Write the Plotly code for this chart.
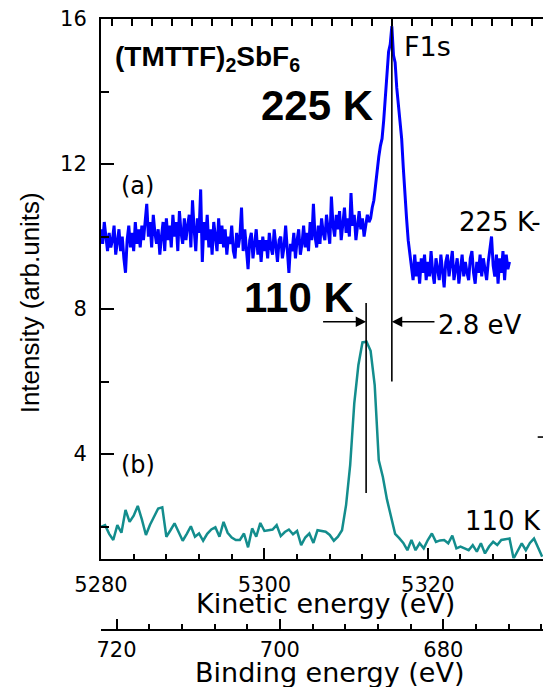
import numpy as np
import plotly.graph_objects as go

# ---------------- data ----------------
ke_start = 5280.0
ke_step_225 = 0.2
intensity_225 = [
    10.2, 9.8, 10.4, 9.9, 9.6,
    10.1, 9.7, 9.9, 10.3, 9.5,
    9.8, 10.2, 9.6, 10.0, 9.4,
    9.0, 9.9, 10.3, 9.7, 10.1,
    9.6, 10.4, 9.8, 10.2, 9.7,
    10.3, 9.9, 10.5, 10.9, 10.0,
    10.4, 9.7, 10.6, 10.1, 9.8,
    10.2, 9.5, 10.0, 10.4, 9.6,
    10.5, 9.9, 10.3, 9.7, 10.6,
    10.0, 10.4, 9.6, 10.7, 10.1,
    9.8, 10.5, 9.9, 10.3, 10.6,
    9.7, 11.0, 10.2, 9.6, 10.5,
    10.1, 11.3, 9.3, 10.4, 9.9,
    10.6, 9.7, 10.2, 9.5, 10.4,
    10.0, 9.6, 10.5, 9.8, 10.3,
    9.7, 10.2, 9.5, 10.0, 9.8,
    10.3, 9.6, 9.4, 10.1, 9.7,
    10.0, 10.8, 9.6, 10.2, 9.5,
    9.1, 9.9, 10.1, 9.4, 9.8,
    10.2, 9.5, 9.9, 9.3, 10.0,
    9.6, 9.9, 9.4, 10.1, 9.7,
    9.5, 10.2, 9.8, 9.3, 9.9,
    10.0, 9.4, 9.7, 10.3, 9.5,
    9.0, 9.8, 9.6, 10.1, 9.4,
    9.9, 10.2, 9.5, 9.8, 10.3,
    9.7, 10.1, 9.6, 10.4, 9.9,
    10.9, 10.0, 9.7, 10.3, 9.8,
    10.5, 10.1, 9.9, 10.6, 10.2,
    9.8, 11.1, 10.3, 10.0, 10.6,
    10.2, 10.7, 9.9, 10.4, 10.8,
    10.1, 10.5, 10.0, 11.2, 10.3,
    10.6, 9.9, 10.4, 10.7, 10.2,
    10.5, 10.0, 10.3, 10.6, 10.4,
    10.5, 10.8, 11.0, 11.4, 11.9,
    12.2, 12.5, 12.7, 13.2, 13.9,
    14.6, 15.1, 15.3, 15.8, 15.0,
    14.8, 14.1, 13.6, 13.3, 12.7,
    11.9, 11.1, 10.5, 9.9, 9.5,
    9.2, 8.8, 9.5, 8.9, 9.3,
    8.7, 9.4, 9.0, 9.5, 8.8,
    9.3, 8.9, 9.6, 9.0, 8.7,
    9.4, 9.1, 8.8, 9.5, 9.0,
    8.6, 9.3, 9.5, 8.9, 9.2,
    9.6, 8.8, 9.1, 9.4, 8.7,
    9.2, 9.5, 8.9, 9.3, 9.0,
    8.8, 9.4, 9.6, 9.0, 8.7,
    9.3, 9.0, 9.5, 8.9, 9.4,
    9.1, 8.8, 9.3, 9.6, 10.0,
    9.2, 8.9, 9.5, 8.7, 9.4,
    9.0, 9.6, 8.8, 9.5, 9.1,
    9.3,
]

ke_step_110 = 0.5
intensity_110 = [
    1.99, 2.04, 1.80, 1.63, 2.04, 1.83, 2.46, 2.13, 2.30, 2.57,
    2.20, 1.77, 2.05, 2.30, 2.50, 2.53, 1.72, 1.90, 2.09, 1.85,
    1.61, 1.80, 2.01, 1.72, 1.81, 1.61, 1.80, 1.92, 1.98, 1.72,
    2.13, 1.83, 1.70, 1.63, 1.63, 1.81, 1.43, 1.95, 1.72, 2.10,
    1.88, 1.90, 1.92, 2.04, 1.74, 1.85, 1.92, 1.79, 1.88, 1.49,
    1.70, 1.81, 1.55, 1.90, 1.88, 1.86, 1.77, 1.61, 1.72, 1.90,
    2.60, 3.70, 5.40, 6.45, 7.08, 7.10, 6.85, 5.90, 3.83, 3.37,
    2.75, 2.25, 1.80, 1.68, 1.55, 1.35, 1.63, 1.35, 1.54, 1.40,
    1.63, 1.81, 1.58, 1.62, 1.63, 1.54, 1.75, 1.40, 1.45, 1.40,
    1.35, 1.49, 1.31, 1.54, 1.26, 1.45, 1.58, 1.49, 1.63, 1.65,
    1.67, 1.12, 1.35, 1.54, 1.35, 1.55, 1.67, 1.44, 1.17,
]

# peak position markers (vertical lines)
peak_ke = [5315.6, 5312.45]
marker_low = [6.0, 2.93]
marker_high = [16.0, 8.17]
arrow_y = 7.65
arrow_tail_ke = [5307.0, 5321.0]

be_offset = 6001.9          # binding = be_offset - kinetic
ke_range = [5280.0, 5334.1]
y_range = [1.12, 16.0]
be_range = [be_offset - ke_range[0], be_offset - ke_range[1]]
be_ticks = [720, 700, 680]

# top frame ticks (unlabelled), spacing in eV
top_tick_start = 5281.3
top_tick_step = 2.45

ke_225 = ke_start + ke_step_225 * np.arange(len(intensity_225))
ke_110 = ke_start + ke_step_110 * np.arange(len(intensity_110))

REG = "DejaVu Sans"
ARIAL = "Liberation Sans, Arial"

fig = go.Figure()
fig.add_trace(go.Scatter(x=ke_225, y=intensity_225, mode="lines",
                         line=dict(color="#0000ff", width=3), hoverinfo="skip"))
fig.add_trace(go.Scatter(x=ke_110, y=intensity_110, mode="lines",
                         line=dict(color="#138d8d", width=2.5), hoverinfo="skip"))
for k in range(len(peak_ke)):
    fig.add_trace(go.Scatter(x=[peak_ke[k], peak_ke[k]], y=[marker_low[k], marker_high[k]],
                             mode="lines", line=dict(color="black", width=1.6),
                             hoverinfo="skip"))
# invisible traces that carry the extra axes
fig.add_trace(go.Scatter(x=be_ticks, y=[y_range[0]] * len(be_ticks), xaxis="x2", yaxis="y",
                         mode="markers", marker=dict(opacity=0), hoverinfo="skip"))
fig.add_trace(go.Scatter(x=ke_range, y=[y_range[0]] * 2, xaxis="x3", yaxis="y",
                         mode="markers", marker=dict(opacity=0), hoverinfo="skip"))

# arrows
for tail in arrow_tail_ke:
    head = peak_ke[1] if tail < peak_ke[1] else peak_ke[0]
    fig.add_annotation(x=head, y=arrow_y, ax=tail, ay=arrow_y, xref="x", yref="y",
                       axref="x", ayref="y", showarrow=True, arrowhead=2,
                       arrowsize=1.3, arrowwidth=1.6, arrowcolor="black", text="",
                       standoff=0, startstandoff=0)

def txt(text, x, y, size, family=REG, bold=False, xanchor="left", xref="x", yref="y", angle=0):
    fig.add_annotation(text=f"<b>{text}</b>" if bold else text, x=x, y=y, xref=xref, yref=yref,
                       xanchor=xanchor, yanchor="middle", showarrow=False, textangle=angle,
                       font=dict(family=family, size=size, color="black"))

txt("(TMTTF)<sub>2</sub>SbF<sub>6</sub>", 5281.5, 14.92, 28, ARIAL, bold=True)
txt("225 K", 5299.3, 13.62, 42, ARIAL, bold=True)
txt("110 K", 5297.2, 8.33, 42, ARIAL, bold=True)
txt("F1s", 5316.9, 15.25, 27)
txt("(a)", 5282.2, 11.4, 24)
txt("(b)", 5282.2, 3.7, 24)
txt("2.8 eV", 5321.0, 7.55, 26)
txt("110 K", 5324.3, 2.15, 26)
txt("225 K-", 1.0, 10.4, 26, xanchor="right", xref="paper")
txt("Kinetic energy (eV)", 0.509, 0.044, 27, xanchor="center", xref="paper", yref="paper")
txt("Binding energy (eV)", 0.518, -0.069, 27, xanchor="center", xref="paper", yref="paper")
txt("Intensity (arb.units)", -0.161, 0.536, 26, ARIAL, xanchor="center",
    xref="paper", yref="paper", angle=-90)

fig.add_shape(type="line", xref="paper", yref="y", x0=0.988, x1=1.0, y0=4.47, y1=4.47,
              line=dict(color="black", width=1.6))

axis_common = dict(showline=True, linecolor="black", linewidth=2, showgrid=False,
                   zeroline=False, ticks="inside", tickcolor="black", tickwidth=1.6,
                   tickfont=dict(family=REG, size=21, color="black"))

fig.update_layout(
    width=543, height=687, autosize=False,
    margin=dict(l=101, r=0, t=19, b=57),
    paper_bgcolor="white", plot_bgcolor="white",
    showlegend=False, hovermode=False,
    xaxis=dict(range=ke_range, dtick=20, tick0=0, ticklen=11, mirror=False,
               minor=dict(dtick=4, ticks="inside", ticklen=5, tickcolor="black", tickwidth=1.6),
               ticklabelstandoff=6, **axis_common),
    xaxis2=dict(range=be_range, overlaying="x", anchor="free", position=0, side="bottom",
                dtick=20, tick0=0, ticklen=10,
                minor=dict(dtick=4, ticks="inside", ticklen=5, tickcolor="black", tickwidth=1.6),
                ticklabelstandoff=1, **axis_common),
    xaxis3=dict(range=ke_range, overlaying="x", anchor="y", side="top",
                tickmode="linear", tick0=top_tick_start, dtick=top_tick_step,
                ticklen=7, showticklabels=False,
                showline=True, linecolor="black", linewidth=2, showgrid=False,
                zeroline=False, ticks="inside", tickcolor="black", tickwidth=1.8),
    yaxis=dict(range=y_range, domain=[0.117, 1], dtick=4, tick0=0, ticklen=13, mirror=False,
               minor=dict(dtick=2, ticks="inside", ticklen=8, tickcolor="black", tickwidth=1.6),
               ticklabelstandoff=8, **axis_common),
)

fig.write_html("out.html")
